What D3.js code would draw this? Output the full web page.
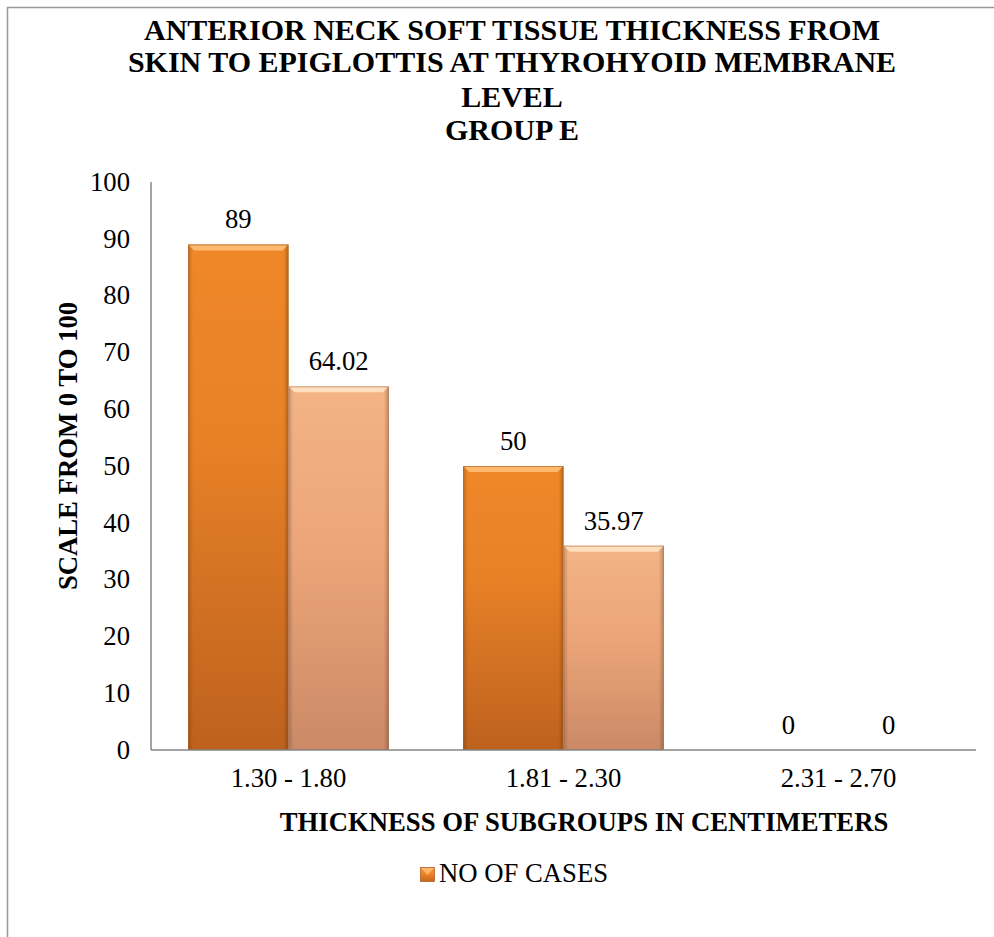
<!DOCTYPE html>
<html>
<head>
<meta charset="utf-8">
<script src="https://cdn.jsdelivr.net/npm/d3@7"></script>
<style>
  html, body { margin: 0; padding: 0; background: #fff; }
  svg { display: block; font-family: "Liberation Serif", "Times New Roman", serif; }
</style>
</head>
<body>
<svg id="chart" width="994" height="937"></svg>
<script>
// Chart data
const categories = ["1.30 - 1.80", "1.81 - 2.30", "2.31 - 2.70"];
const casesValues = [89, 50, 0];
const percentValues = [64.02, 35.97, 0];
const yTicks = [0, 10, 20, 30, 40, 50, 60, 70, 80, 90, 100];
const titleLines = [
  "ANTERIOR NECK SOFT TISSUE THICKNESS FROM",
  "SKIN TO EPIGLOTTIS AT THYROHYOID MEMBRANE",
  "LEVEL",
  "GROUP E"
];
const xTitle = "THICKNESS OF SUBGROUPS IN CENTIMETERS";
const yTitle = "SCALE FROM 0 TO 100";
const legendLabel = "NO OF CASES";

const svg = d3.select("#chart");
const FS = 26.7;

// Outer chart frame
svg.append("rect")
  .attr("x", 7.5).attr("y", 7.5)
  .attr("width", 1100).attr("height", 1100)
  .attr("fill", "none").attr("stroke", "#999").attr("stroke-width", 1.5);

const plot = { left: 151, right: 976, top: 182, bottom: 750 };

const x = d3.scaleBand().domain(categories).range([plot.left, plot.right]).paddingInner(0.27).paddingOuter(0.135);
const y = d3.scaleLinear().domain([0, 100]).range([plot.bottom, plot.top]);
const sub = d3.scaleBand().domain(["cases", "percent"]).range([0, x.bandwidth()]);

// Gradients
const defs = svg.append("defs");
function grad(id, stops, horizontal) {
  const g = defs.append("linearGradient").attr("id", id)
    .attr("x1", 0).attr("y1", 0).attr("x2", horizontal ? 1 : 0).attr("y2", horizontal ? 0 : 1);
  stops.forEach(s => g.append("stop").attr("offset", s[0]).attr("stop-color", s[1]).attr("stop-opacity", s[2] == null ? 1 : s[2]));
}
grad("gDark", [[0, "#F98D2A"], [0.4, "#F08628"], [1, "#C5651F"]]);
grad("gLight", [[0, "#FDBB8A"], [0.45, "#F6AC7D"], [1, "#D38F6A"]]);
grad("sideShade", [[0, "#000", 0.2], [0.05, "#000", 0.04], [0.95, "#000", 0.04], [1, "#000", 0.26]], true);

const series = [
  { key: "cases", values: casesValues, fill: "url(#gDark)", top: "#FFC27A", edge: "#A9561A" },
  { key: "percent", values: percentValues, fill: "url(#gLight)", top: "#FFE6C8", edge: "#B07250" }
];

const bars = svg.append("g");
series.forEach(s => {
  categories.forEach((c, i) => {
    const v = s.values[i];
    const bx = x(c) + sub(s.key);
    const bw = sub.bandwidth();
    const by = y(v);
    const bh = y(0) - y(v);
    if (bh <= 0) return;
    const g = bars.append("g");
    g.append("rect").attr("x", bx).attr("y", by).attr("width", bw).attr("height", bh).attr("fill", s.fill);
    g.append("rect").attr("x", bx).attr("y", by).attr("width", bw).attr("height", bh).attr("fill", "url(#sideShade)");
    // bevelled top edge
    const b = 6;
    g.append("path")
      .attr("d", `M${bx},${by} L${bx + bw},${by} L${bx + bw - b},${by + b} L${bx + b},${by + b} Z`)
      .attr("fill", s.top).attr("opacity", 0.85);
    g.append("rect").attr("x", bx + 0.5).attr("y", by + 0.5).attr("width", bw - 1).attr("height", bh - 1)
      .attr("fill", "none").attr("stroke", s.edge).attr("stroke-opacity", 0.6).attr("stroke-width", 1);
  });
});

// Axes
svg.append("line").attr("x1", plot.left).attr("x2", plot.left).attr("y1", plot.top).attr("y2", plot.bottom)
  .attr("stroke", "#868686").attr("stroke-width", 1.5);
svg.append("line").attr("x1", plot.left).attr("x2", plot.right).attr("y1", plot.bottom).attr("y2", plot.bottom)
  .attr("stroke", "#868686").attr("stroke-width", 1.5);

svg.append("g").selectAll("text").data(yTicks).join("text")
  .attr("x", 130).attr("y", d => y(d)).attr("dy", "0.33em")
  .attr("text-anchor", "end").attr("font-size", FS).attr("fill", "#000")
  .text(d => d);

svg.append("g").selectAll("text").data(categories).join("text")
  .attr("x", d => x(d) + x.bandwidth() / 2).attr("y", 787)
  .attr("text-anchor", "middle").attr("font-size", FS).attr("fill", "#000")
  .text(d => d);

// Value labels
series.forEach(s => {
  svg.append("g").selectAll("text").data(categories).join("text")
    .attr("x", d => x(d) + sub(s.key) + sub.bandwidth() / 2)
    .attr("y", (d, i) => y(s.values[i]) - 16)
    .attr("text-anchor", "middle").attr("font-size", FS).attr("fill", "#000")
    .text((d, i) => s.values[i]);
});

// Titles
svg.append("g").selectAll("text").data(titleLines).join("text")
  .attr("x", 512).attr("y", (d, i) => [40, 72, 107, 140][i])
  .attr("text-anchor", "middle").attr("font-size", 30).attr("font-weight", "bold").attr("fill", "#000")
  .text(d => d);

svg.append("text").attr("x", 584).attr("y", 831)
  .attr("text-anchor", "middle").attr("font-size", FS).attr("font-weight", "bold").text(xTitle);

svg.append("text").attr("transform", "translate(77,446) rotate(-90)")
  .attr("text-anchor", "middle").attr("font-size", FS).attr("font-weight", "bold").text(yTitle);

// Legend
const lg = svg.append("g");
lg.append("rect").attr("x", 420.5).attr("y", 867.5).attr("width", 14).attr("height", 14).attr("fill", "url(#gDark)")
  .attr("stroke", "#A9561A").attr("stroke-width", 0.7);
lg.append("path").attr("d", "M421,868 L434,868 L427.5,875 Z").attr("fill", "#FFC27A").attr("opacity", 0.8);
lg.append("text").attr("x", 439).attr("y", 882).attr("font-size", FS).text(legendLabel);
</script>
</body>
</html>
